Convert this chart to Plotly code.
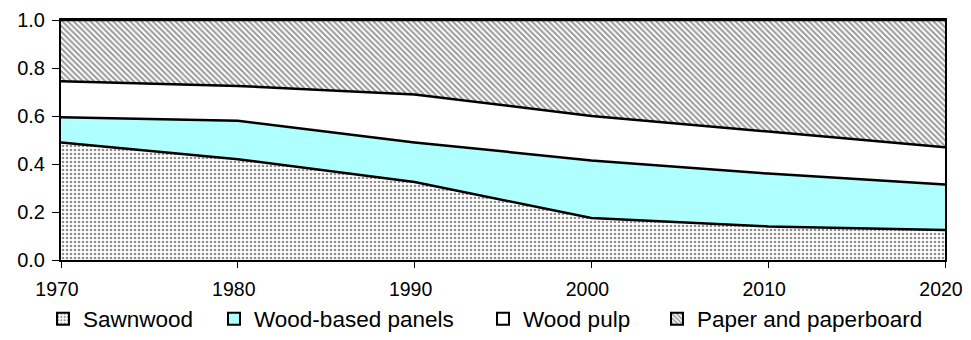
import plotly.graph_objects as go

years = [1970, 1980, 1990, 2000, 2010, 2020]
sawnwood = [0.49, 0.42, 0.325, 0.175, 0.14, 0.125]
panels = [0.105, 0.16, 0.165, 0.24, 0.22, 0.19]
pulp = [0.15, 0.145, 0.20, 0.185, 0.175, 0.155]
paper = [0.255, 0.275, 0.31, 0.40, 0.465, 0.53]

names = ['Sawnwood', 'Wood-based panels', 'Wood pulp', 'Paper and paperboard']
series = [sawnwood, panels, pulp, paper]
fills = ['white', '#AFFFFF', 'white', 'white']
patterns = [
    dict(shape='.', fgcolor='#222222', bgcolor='white', size=4, solidity=0.35),
    None,
    None,
    dict(shape='\\', fgcolor='#333333', bgcolor='white', size=4, solidity=0.5),
]

W, H = 955, 324  # page body keeps an 8px margin

fig = go.Figure()
for name, vals, fc, pat in zip(names, series, fills, patterns):
    kw = dict(fillpattern=pat) if pat else {}
    fig.add_trace(go.Scatter(
        x=years, y=vals, name=name, mode='lines',
        stackgroup='one', fillcolor=fc,
        line=dict(color='black', width=2.5),
        showlegend=False, **kw
    ))

# legend boxes, one legend each so they can be placed like the original
legend_x = [35, 206, 475, 649]
legend_ids = ['legend', 'legend2', 'legend3', 'legend4']
for name, fc, pat, lid in zip(names, fills, patterns, legend_ids):
    m = dict(color=fc, line=dict(color='black', width=2))
    if pat:
        m['pattern'] = pat
    fig.add_trace(go.Bar(x=[None], y=[None], name=name, marker=m, legend=lid))

legends = {}
for lid, lx in zip(legend_ids, legend_x):
    legends[lid] = dict(orientation='h', xref='container', yref='container',
                        x=lx / W, xanchor='left', y=13 / H, yanchor='middle',
                        font=dict(size=22.5), bgcolor='rgba(0,0,0,0)')

fig.update_layout(
    width=W, height=H,
    margin=dict(l=53, r=18, t=12, b=72, autoexpand=False),
    plot_bgcolor='white', paper_bgcolor='white',
    font=dict(family='Liberation Sans, Arial', size=20, color='black'),
    showlegend=True,
    **legends
)
fig.update_xaxes(range=[1970, 2020], tickvals=years, showgrid=False, zeroline=False,
                 showline=True, linecolor='black', linewidth=2, mirror=True,
                 ticks='outside', ticklen=6, tickcolor='black',
                 tickfont=dict(size=19.5), ticklabelstandoff=5, ticklabelshift=-4,
                 automargin=False, ticklabeloverflow='allow')
fig.update_yaxes(range=[0, 1], dtick=0.2, tickformat='.1f', showgrid=False, zeroline=False,
                 showline=True, linecolor='black', linewidth=2, mirror=True,
                 ticks='outside', ticklen=7, tickcolor='black', ticklabelstandoff=3,
                 automargin=False)

fig.write_html("out.html")
